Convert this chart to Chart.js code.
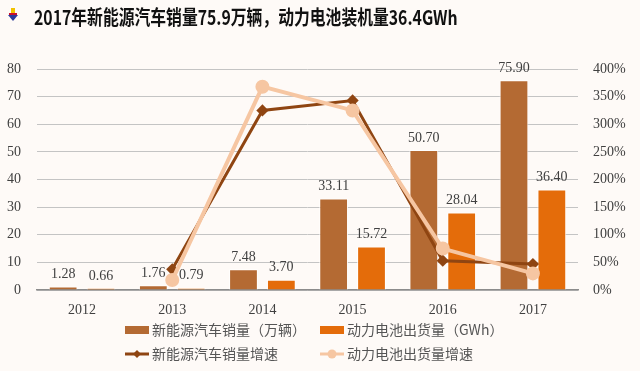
<!DOCTYPE html>
<html>
<head>
<meta charset="utf-8">
<script src="https://cdn.jsdelivr.net/npm/chart.js@4.4.1/dist/chart.umd.min.js"></script>
<style>
  html, body { margin: 0; padding: 0; background: #fefaf7; }
  #wrap { width: 640px; height: 371px; position: relative; }
</style>
</head>
<body>
<div id="wrap"><canvas id="evChart" width="640" height="371"></canvas></div>
<script>
const years = ['2012', '2013', '2014', '2015', '2016', '2017'];
const evSales = [1.28, 1.76, 7.48, 33.11, 50.70, 75.90];
const batteryShip = [0.66, 0.79, 3.70, 15.72, 28.04, 36.40];
const evGrowth = [null, 37.5, 325, 343, 53, 47];
const batteryGrowth = [null, 18, 368, 325, 75, 30];
const leftTicks = [0, 10, 20, 30, 40, 50, 60, 70, 80];
const rightTicks = [0, 50, 100, 150, 200, 250, 300, 350, 400];

const titleText = '2017年新能源汽车销量75.9万辆，动力电池装机量36.4GWh';
const serif = '"Liberation Serif", "DejaVu Serif", serif';
const cjk = '"Noto Sans CJK SC", sans-serif';

const colors = {
    sales: '#b46a33',
    battery: '#e46c0a',
    salesLine: '#8f4512',
    batteryLine: '#f6c6a2'
};

// bar value labels + title + legend drawn by hand
const extras = {
    id: 'extras',
    afterDatasetsDraw(chart) {
        const ctx = chart.ctx;
        ctx.save();
        ctx.font = '14px ' + serif;
        ctx.fillStyle = '#404040';
        ctx.textAlign = 'center';
        ctx.textBaseline = 'bottom';
        [0, 1].forEach(i => {
            const meta = chart.getDatasetMeta(i);
            meta.data.forEach((bar, j) => {
                const v = chart.data.datasets[i].data[j];
                ctx.fillText(v.toFixed(2), bar.x, bar.y - 5);
            });
        });
        ctx.restore();
    },
    afterDraw(chart) {
        const ctx = chart.ctx;
        ctx.save();
        // title marker
        ctx.fillStyle = '#f2c200';
        ctx.fillRect(11, 8, 4, 6);
        ctx.fillStyle = '#c8102e';
        ctx.fillRect(9, 13, 8, 2);
        ctx.fillStyle = '#2a3a9a';
        ctx.beginPath();
        ctx.moveTo(8, 15); ctx.lineTo(18, 15); ctx.lineTo(13, 21); ctx.closePath();
        ctx.fill();
        // title (squeezed, the original face is narrow)
        ctx.save();
        ctx.translate(34, 17);
        ctx.scale(0.79, 1);
        ctx.font = 'bold 20px ' + cjk;
        ctx.fillStyle = '#111';
        ctx.textBaseline = 'middle';
        ctx.textAlign = 'left';
        ctx.fillText(titleText, 0, 0);
        ctx.restore();

        // legend in two columns
        const items = [
            { text: '新能源汽车销量（万辆）', color: colors.sales, type: 'box', x: 125, y: 330 },
            { text: '动力电池出货量（GWh）', color: colors.battery, type: 'box', x: 320, y: 330 },
            { text: '新能源汽车销量增速', color: colors.salesLine, type: 'line', x: 125, y: 354 },
            { text: '动力电池出货量增速', color: colors.batteryLine, type: 'line', x: 320, y: 354 }
        ];
        ctx.font = '14px ' + cjk;
        ctx.textBaseline = 'middle';
        items.forEach(it => {
            ctx.fillStyle = it.color;
            ctx.strokeStyle = it.color;
            if (it.type === 'box') {
                ctx.fillRect(it.x, it.y - 4, 24, 8);
            } else {
                ctx.lineWidth = 3;
                ctx.beginPath();
                ctx.moveTo(it.x, it.y); ctx.lineTo(it.x + 24, it.y);
                ctx.stroke();
                ctx.beginPath();
                if (it.color === colors.salesLine) {
                    ctx.moveTo(it.x + 12, it.y - 4); ctx.lineTo(it.x + 16, it.y);
                    ctx.lineTo(it.x + 12, it.y + 4); ctx.lineTo(it.x + 8, it.y);
                } else {
                    ctx.arc(it.x + 12, it.y, 4.5, 0, Math.PI * 2);
                }
                ctx.fill();
            }
            ctx.fillStyle = '#555';
            ctx.fillText(it.text, it.x + 27, it.y);
        });
        ctx.restore();
    }
};

const ctx = document.getElementById('evChart').getContext('2d');
const evChart = new Chart(ctx, {
    type: 'bar',
    data: {
        labels: years,
        datasets: [
            {
                label: '新能源汽车销量（万辆）',
                data: evSales,
                backgroundColor: colors.sales,
                borderColor: 'rgba(255,255,255,0.9)',
                borderWidth: 1,
                yAxisID: 'y',
                order: 3,
                categoryPercentage: 0.84,
                barPercentage: 0.76
            },
            {
                label: '动力电池出货量（GWh）',
                data: batteryShip,
                backgroundColor: colors.battery,
                borderColor: 'rgba(255,255,255,0.9)',
                borderWidth: 1,
                yAxisID: 'y',
                order: 3,
                categoryPercentage: 0.84,
                barPercentage: 0.76
            },
            {
                type: 'line',
                label: '新能源汽车销量增速',
                data: evGrowth,
                borderColor: colors.salesLine,
                backgroundColor: colors.salesLine,
                borderWidth: 3,
                pointStyle: 'rectRot',
                pointRadius: 4,
                yAxisID: 'y1',
                order: 1
            },
            {
                type: 'line',
                label: '动力电池出货量增速',
                data: batteryGrowth,
                borderColor: colors.batteryLine,
                backgroundColor: colors.batteryLine,
                borderWidth: 4,
                pointStyle: 'circle',
                pointRadius: 5,
                yAxisID: 'y1',
                order: 0
            }
        ]
    },
    options: {
        responsive: false,
        animation: false,
        layout: {
            padding: { top: 69, bottom: 55, left: 0, right: 0 }
        },
        plugins: {
            legend: { display: false },
            tooltip: { enabled: false },
            title: { display: false }
        },
        scales: {
            x: {
                grid: { display: false },
                border: { color: '#8c8c8c', width: 1.5 },
                ticks: { font: { family: serif, size: 14 }, color: '#404040', padding: 4 },
                afterFit: s => { s.height = 26; }
            },
            y: {
                position: 'left',
                min: 0,
                max: 80,
                afterBuildTicks: s => { s.ticks = leftTicks.map(v => ({ value: v })); },
                grid: { color: '#c4c4c4', drawTicks: false },
                border: { display: false },
                ticks: { font: { family: serif, size: 14 }, color: '#404040', padding: 16 },
                afterFit: s => { s.width = 37; }
            },
            y1: {
                position: 'right',
                min: 0,
                max: 400,
                afterBuildTicks: s => { s.ticks = rightTicks.map(v => ({ value: v })); },
                grid: { display: false, drawTicks: false },
                border: { display: false },
                ticks: {
                    font: { family: serif, size: 14 },
                    color: '#404040',
                    padding: 15,
                    callback: v => v + '%'
                },
                afterFit: s => { s.width = 62; }
            }
        }
    },
    plugins: [extras]
});
</script>
</body>
</html>
